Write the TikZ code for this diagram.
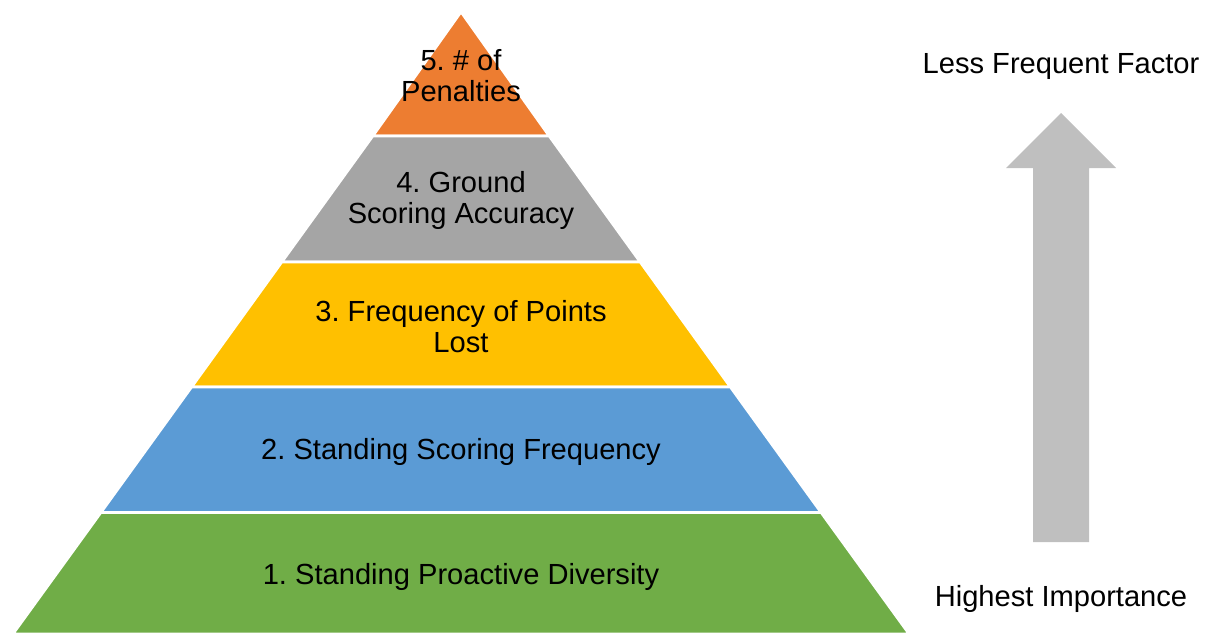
\documentclass[tikz,border=0pt]{standalone}
\usepackage{fontspec}
\setmainfont{Liberation Sans}
\usepackage{tikz}
\usepackage{xcolor}
\definecolor{penalty}{HTML}{ED7D31}
\definecolor{ground}{HTML}{A5A5A5}
\definecolor{lost}{HTML}{FFC000}
\definecolor{standing}{HTML}{5B9BD5}
\definecolor{proactive}{HTML}{70AD47}
\definecolor{arrowgray}{HTML}{BFBFBF}
\frenchspacing

\begin{document}
\begin{tikzpicture}[x=0.025cm, y=-0.025cm,
		layer/.style={draw=white, line width=1.8pt},
		label/.style={align=center, inner sep=0pt, font=\fontsize{20.7pt}{22pt}\selectfont}]
		\useasboundingbox (0,0) rectangle (1206,633);
		% pyramid, top to bottom
		\draw [layer, fill=penalty] (461,12) -- (549.1,136) -- (372.9,136) -- cycle;
		\node [label] (penalties) at (461,75.5) {5. \# of\\Penalties};
		%
		\draw [layer, fill=ground] (372.9,136) -- (549.1,136) -- (640.1,262) -- (281.9,262) -- cycle;
		\node [label] (accuracy) at (461,200.5) {4. Ground\\Scoring Accuracy};
		%
		\draw [layer, fill=lost] (281.9,262) -- (640.1,262) -- (730.3,387) -- (191.7,387) -- cycle;
		\node [label] (lost) at (461,326.5) {3. Frequency of Points\\Lost};
		%
		\draw [layer, fill=standing] (191.7,387) -- (730.3,387) -- (821,512.5) -- (101,512.5) -- cycle;
		\node [label] (frequency) at (461,451.5) {2. Standing Scoring Frequency};
		%
		\draw [layer, fill=proactive] (101,512.5) -- (821,512.5) -- (909,634) -- (13,634) -- cycle;
		\node [label] (diversity) at (461,576.5) {1. Standing Proactive Diversity};
		%
		% importance arrow
		\fill [arrowgray] (1033,542) -- (1033,168) -- (1006,168) -- (1061,113) -- (1116,168) -- (1089,168) -- (1089,542) -- cycle;
		\node [label] (less) at (1061,66.5) {Less Frequent Factor};
		\node [label] (highest) at (1061,598.5) {Highest Importance};
	\end{tikzpicture}
\end{document}
